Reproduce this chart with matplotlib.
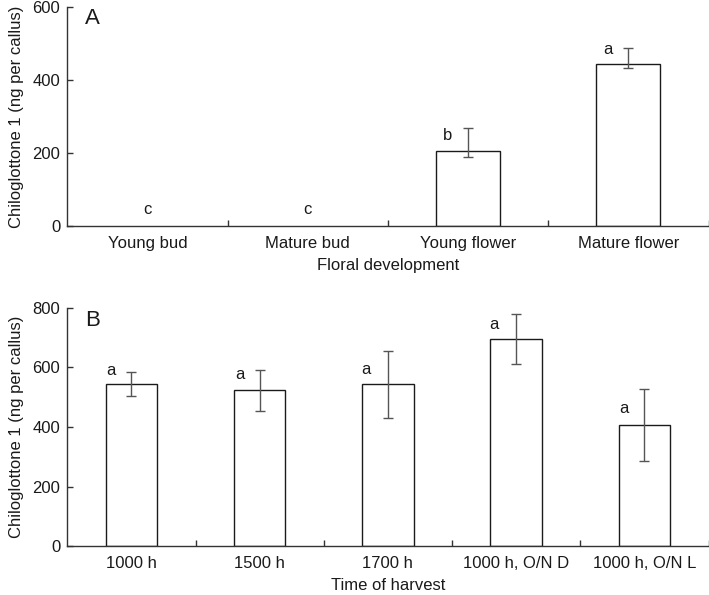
import matplotlib
matplotlib.use("Agg")
import matplotlib.pyplot as plt
import numpy as np

plt.rcParams['font.family'] = ['Liberation Sans', 'DejaVu Sans']

# Panel A data
catA = ["Young bud", "Mature bud", "Young flower", "Mature flower"]
valA = [0, 0, 205, 443]
lowA = [0, 0, 190, 432]
highA = [0, 0, 268, 486]
letA = ["c", "c", "b", "a"]
letA_y = [46, 46, 249, 482]
letA_dx = [0, 0, -20, -20]

# Panel B data
catB = ["1000 h", "1500 h", "1700 h", "1000 h, O/N D", "1000 h, O/N L"]
valB = [544, 523, 543, 695, 407]
lowB = [505, 455, 429, 611, 286]
highB = [585, 591, 656, 779, 528]
letB = ["a", "a", "a", "a", "a"]
letB_y = [589, 576, 594, 743, 462]
letB_dx = [-20, -20, -22, -22, -20]

TXT = "#1a1a1a"
LINE = "#333333"
ERR = "#555555"
FS = 12

fig = plt.figure(figsize=(7.09, 5.95), dpi=100)
axA = fig.add_axes([0.0949, 0.6197, 0.9044, 0.369])
axB = fig.add_axes([0.0949, 0.0818, 0.9044, 0.4012])


def panel(ax, cats, vals, lows, highs, lets, let_y, let_dx, ymax, yticks, xlabel, tag):
    n = len(cats)
    x = np.arange(n)
    lo = np.array(vals) - np.array(lows)
    hi = np.array(highs) - np.array(vals)
    show = np.array(vals) > 0
    ax.bar(x[show], np.array(vals)[show], width=0.4, facecolor="white",
           edgecolor="#1a1a1a", linewidth=1.0, zorder=2)
    ax.errorbar(x[show], np.array(vals)[show], yerr=[lo[show], hi[show]], fmt="none",
                ecolor=ERR, elinewidth=1.0, capsize=3.6, capthick=1.0, zorder=3)
    for xi, t, yv, dx in zip(x, lets, let_y, let_dx):
        ax.annotate(t, (xi, yv), xytext=(dx * 0.72, 0), textcoords="offset points",
                    ha="center", va="center", fontsize=FS, color=TXT)
    ax.set_xlim(-0.5, n - 0.5)
    ax.set_ylim(0, ymax)
    ax.set_yticks(yticks)
    ax.set_xticks(x)
    ax.set_xticklabels(cats)
    ax.set_xticks(np.arange(n) + 0.5, minor=True)
    ax.tick_params(axis="x", which="major", length=0, pad=7, labelsize=FS, labelcolor=TXT)
    ax.tick_params(axis="x", which="minor", direction="in", length=4, width=1.0, color=LINE)
    ax.tick_params(axis="y", direction="in", length=4, width=1.0, color=LINE, pad=5,
                   labelsize=FS, labelcolor=TXT)
    for s in ["top", "right"]:
        ax.spines[s].set_visible(False)
    for s in ["left", "bottom"]:
        ax.spines[s].set_color(LINE)
        ax.spines[s].set_linewidth(1.0)
    ax.set_xlabel(xlabel, fontsize=FS, color=TXT, labelpad=5)
    ax.set_ylabel("Chiloglottone 1 (ng per callus)", fontsize=FS, color=TXT, labelpad=6)
    ax.text(0.028, 0.945, tag, transform=ax.transAxes, fontsize=16, color=TXT,
            ha="left", va="center")


panel(axA, catA, valA, lowA, highA, letA, letA_y, letA_dx, 600, [0, 200, 400, 600],
      "Floral development", "A")
panel(axB, catB, valB, lowB, highB, letB, letB_y, letB_dx, 800, [0, 200, 400, 600, 800],
      "Time of harvest", "B")

fig.savefig("out.png", dpi=100)
